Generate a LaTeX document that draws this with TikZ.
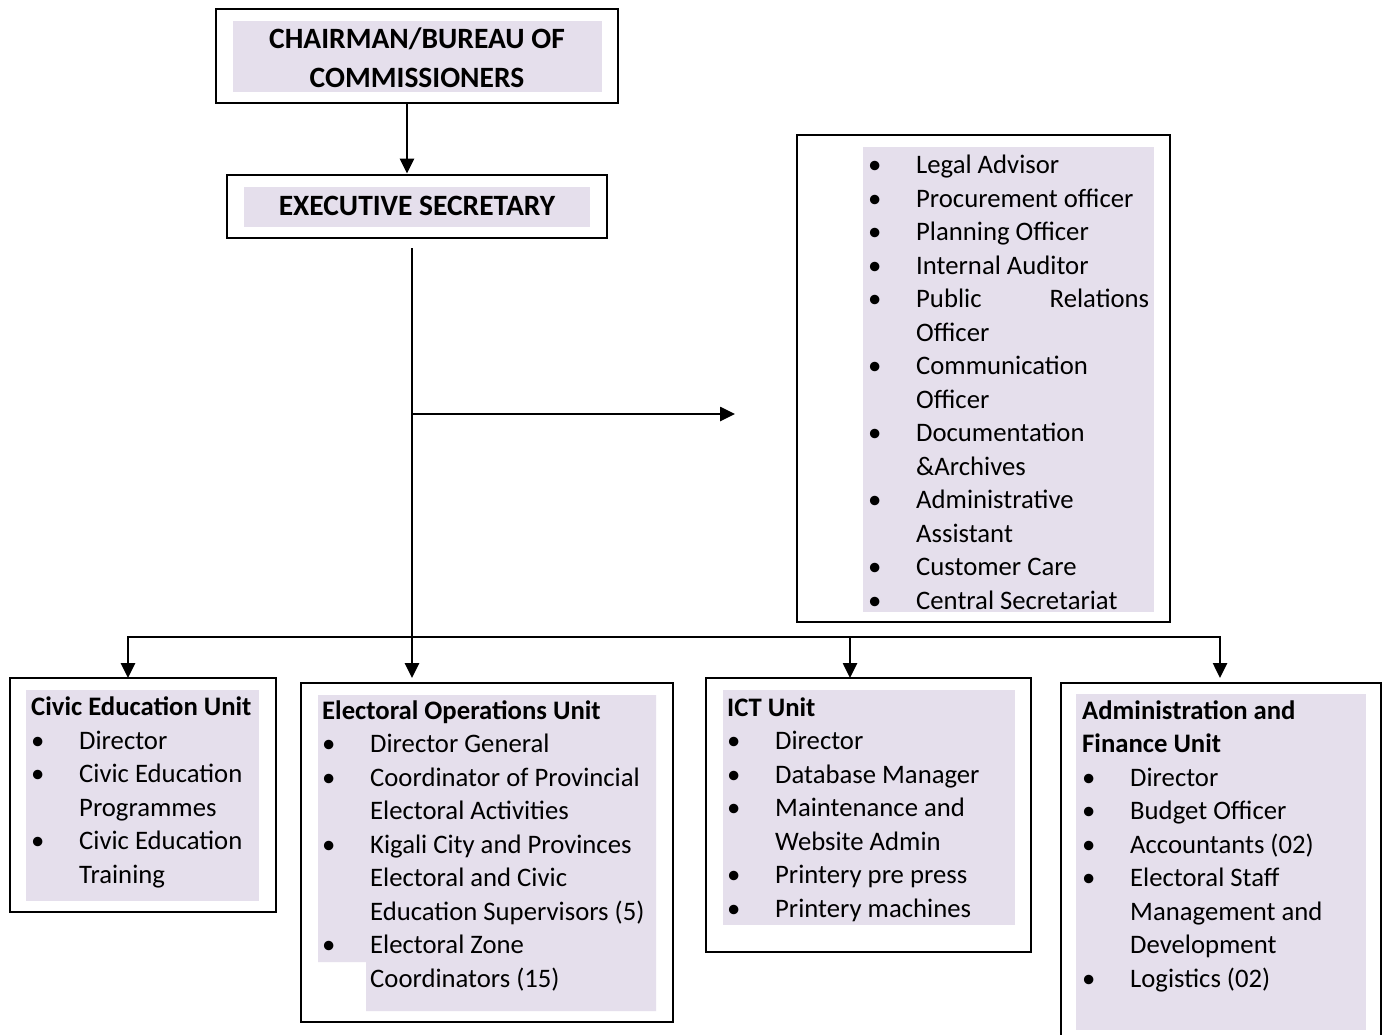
\documentclass[tikz,border=0pt]{standalone}
\usepackage{fontspec}
\setmainfont{Carlito}
\usetikzlibrary{arrows.meta}
\definecolor{lav}{HTML}{E5DFEC}
\newcommand{\bl}{\makebox[48pt][l]{\textbullet}}
\newcommand{\ct}{\hspace*{48pt}}
\begin{document}
\begin{tikzpicture}[x=1pt,y=-1pt,
  box/.style={draw, line width=2.8pt, fill=white, inner sep=0pt},
  arr/.style={line width=2.6pt, -{Triangle[width=14pt,length=15pt]}},
  bus/.style={line width=2.6pt, line cap=rect},
  list/.style={anchor=base west, inner sep=0pt, align=left, font=\fontsize{26.7}{33.5}\selectfont},
  head/.style={anchor=base, inner sep=0pt, align=center, font=\fontsize{29.5}{39}\selectfont\bfseries}]
\clip (0,0) rectangle (1383,1034);
% outer boxes
\node[box, minimum width=402pt, minimum height=94pt] (chair) at (417,56) {};
\node[box, minimum width=380pt, minimum height=63pt] (exec) at (417,206.5) {};
\node[box, minimum width=373pt, minimum height=487pt] (rbox) at (983.5,378.5) {};
\node[box, minimum width=266pt, minimum height=234pt] (civ) at (143,795) {};
\node[box, minimum width=372pt, minimum height=339pt] (elec) at (487,852.5) {};
\node[box, minimum width=325pt, minimum height=274pt] (ict) at (868.5,815) {};
\node[box, minimum width=320pt, minimum height=377pt] (adm) at (1221,871.5) {};
% shading
\fill[lav] (233,21) rectangle (602,92);
\fill[lav] (244,187) rectangle (590,227);
\fill[lav] (863,147) rectangle (1154,612);
\fill[lav] (26,690) rectangle (259,901);
\fill[lav] (318,695) -- (656,695) -- (656,1011) -- (366,1011) -- (366,962) -- (318,962) -- cycle;
\fill[lav] (723,690) rectangle (1015,925);
\fill[lav] (1076,694) rectangle (1366,1030);
% texts (anchored at the baseline of the last line)
\node[head] (tchair) at (417,87) {CHAIRMAN/BUREAU OF\\COMMISSIONERS};
\node[head] (texec) at (417,215) {EXECUTIVE SECRETARY};
\node[list] (trbox) at (868,609) {\bl Legal Advisor\\
\bl Procurement officer\\
\bl Planning Officer\\
\bl Internal Auditor\\
\bl \makebox[233pt][s]{Public\hfill Relations}\\
\ct Officer\\
\bl Communication\\
\ct Officer\\
\bl Documentation\\
\ct \&Archives\\
\bl Administrative\\
\ct Assistant\\
\bl Customer Care\\
\bl Central Secretariat};
\node[list] (tciv) at (31,883) {\textbf{Civic Education Unit}\\
\bl Director\\
\bl Civic Education\\
\ct Programmes\\
\bl Civic Education\\
\ct Training};
\node[list] (telec) at (322,987) {\textbf{Electoral Operations Unit}\\
\bl Director General\\
\bl Coordinator of Provincial\\
\ct Electoral Activities\\
\bl Kigali City and Provinces\\
\ct Electoral and Civic\\
\ct Education Supervisors (5)\\
\bl Electoral Zone\\
\ct Coordinators (15)};
\node[list] (tict) at (727,917) {\textbf{ICT Unit}\\
\bl Director\\
\bl Database Manager\\
\bl Maintenance and\\
\ct Website Admin\\
\bl Printery pre press\\
\bl Printery machines};
\node[list] (tadm) at (1082,987) {\textbf{Administration and}\\
\textbf{Finance Unit}\\
\bl Director\\
\bl Budget Officer\\
\bl Accountants (02)\\
\bl Electoral Staff\\
\ct Management and\\
\ct Development\\
\bl Logistics (02)};
% connectors
\coordinate (ax) at (407,0);
\coordinate (tipL) at (0,678);
\coordinate (t0) at (412,248);
\coordinate (b1) at (735,414);
\coordinate (busL) at (128,637);
\coordinate (busI) at (850,637);
\coordinate (busR) at (1220,637);
\draw[arr] (chair.south -| ax) -- (exec.north -| ax);
\draw[arr] (t0) -- (t0 |- tipL);
\draw[arr] (t0 |- b1) -- (b1);
\draw[bus] (busL) -- (busR);
\draw[arr] (busL) -- (busL |- tipL);
\draw[arr] (busI) -- (busI |- tipL);
\draw[arr] (busR) -- (busR |- tipL);
\end{tikzpicture}
\end{document}
